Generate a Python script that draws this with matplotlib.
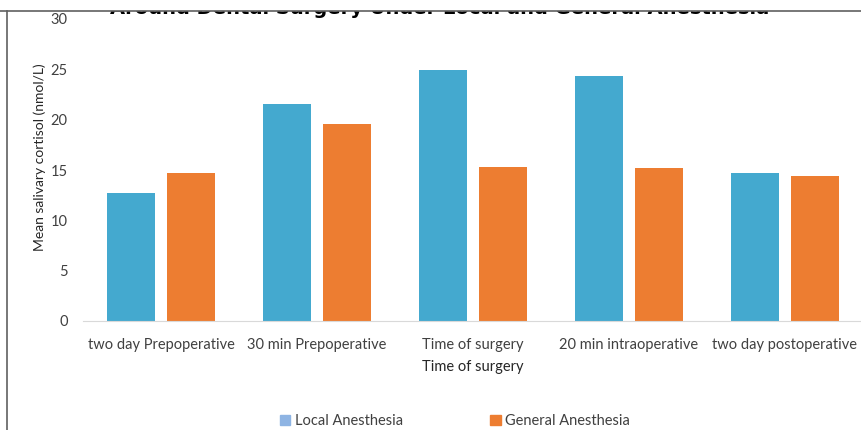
import matplotlib
matplotlib.use('Agg')
import matplotlib.pyplot as plt
from matplotlib.patches import Patch, Rectangle
from matplotlib.lines import Line2D
import numpy as np

timepoints = ["two day Prepoperative", "30 min Prepoperative", "Time of surgery",
              "20 min intraoperative", "two day postoperative"]
local_anesthesia = [12.7, 21.6, 24.9, 24.3, 14.7]
general_anesthesia = [14.7, 19.6, 15.3, 15.2, 14.4]
series_names = ["Local Anesthesia", "General Anesthesia"]
y_ticks = [0, 5, 10, 15, 20, 25, 30]

plt.rcParams['font.family'] = ['Lato', 'DejaVu Sans']

fig = plt.figure(figsize=(8.62, 4.3), dpi=100)
ax = fig.add_axes([83 / 862, 1 - 321 / 430, 780 / 862, 302 / 430])

x = np.arange(len(timepoints))
w = 0.31
gap = 0.077
ax.bar(x - (w + gap) / 2, local_anesthesia, w, color='#44a9cf')
ax.bar(x + (w + gap) / 2, general_anesthesia, w, color='#ed7d31')

ax.set_xlim(-0.5, len(timepoints) - 0.5)
ax.set_ylim(0, 30)
ax.set_yticks(y_ticks)
ax.set_xticks(x)
ax.set_xticklabels(timepoints)
ax.tick_params(axis='both', length=0, labelsize=10.5, colors='#404040')
ax.tick_params(axis='y', pad=11)
ax.tick_params(axis='x', pad=12)
for s in ['top', 'right', 'left']:
    ax.spines[s].set_visible(False)
ax.spines['bottom'].set_color('#d9d9d9')

ax.set_xlabel("Time of surgery", fontsize=10.5, color='#262626', labelpad=6)
ax.set_ylabel("Mean salivary cortisol (nmol/L)", fontsize=10, color='#262626')
ax.yaxis.set_label_coords(-37 / 780, (321 - 157) / 302)

# title sits mostly above the frame, only its lower edge shows
fig.text(0.51, 1 - 13.5 / 430, "Around Dental Surgery Under Local and General Anesthesia",
         ha='center', va='baseline', fontsize=14, fontweight='bold',
         family='DejaVu Sans', color='#000000')
fig.add_artist(Rectangle((0, 1 - 11 / 430), 1, 11 / 430, transform=fig.transFigure,
                         facecolor='white', edgecolor='none', zorder=5))

# frame lines: top and left edge
fig.add_artist(Line2D([0, 1], [1 - 11 / 430, 1 - 11 / 430], color='#606060', lw=1.2, zorder=6))
fig.add_artist(Line2D([7 / 862, 7 / 862], [0, 1 - 11 / 430], color='#606060', lw=1.2, zorder=6))

handles = [Patch(color='#8eb4e3'), Patch(color='#ed7d31')]
fig.legend(handles, series_names, loc='center', bbox_to_anchor=(455 / 862, 1 - 421 / 430),
           ncol=2, frameon=False, fontsize=10.5, handlelength=0.7, handleheight=0.7,
           handletextpad=0.3, columnspacing=6.0, labelcolor='#404040')

fig.savefig('out.png', dpi=100)
